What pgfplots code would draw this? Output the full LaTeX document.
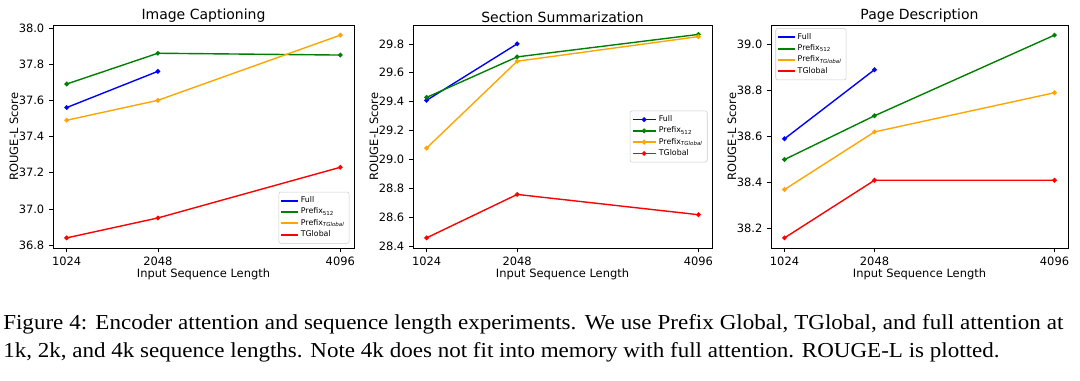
\documentclass[border=0pt]{standalone}
\usepackage{fontspec}
\setmainfont{DejaVu Sans}
\newfontfamily\capfont[FakeStretch=1.08]{Liberation Serif}
\usepackage{pgfplots}
\pgfplotsset{compat=1.18}
\definecolor{mblue}{RGB}{0,0,255}
\definecolor{mgreen}{RGB}{0,128,0}
\definecolor{morange}{RGB}{255,165,0}
\definecolor{mred}{RGB}{255,0,0}
\pgfplotsset{
  panel/.style={
    scale only axis,
    height=167.25pt,
    anchor=south west,
    xmin=870.4, xmax=4249.6,
    xtick={1024,2048,4096},
    xticklabels={1024,2048,4096},
    tick align=outside,
    major tick length=3pt,
    xtick pos=bottom, ytick pos=left,
    tick style={black, line width=0.5pt},
    axis line style={line width=0.6pt},
    /pgf/number format/assume math mode=true,
    yticklabel style={/pgf/number format/fixed, /pgf/number format/fixed zerofill, /pgf/number format/precision=1, font=\fontsize{8.6pt}{10pt}\selectfont},
    xticklabel style={font=\fontsize{8.6pt}{10pt}\selectfont},
    label style={font=\fontsize{8.6pt}{10pt}\selectfont},
    title style={font=\fontsize{10.5pt}{12pt}\selectfont, yshift=-7.5pt},
    xlabel={Input Sequence Length},
    ylabel={ROUGE-L Score},
    xlabel style={yshift=4pt},
    ylabel style={yshift=-6.5pt},
    legend style={draw=black!20, rounded corners=1.5pt, font=\fontsize{5.9pt}{7pt}\selectfont, legend cell align=left, inner sep=1.5pt, row sep=-1.5pt},
    every axis plot/.append style={line width=1.05pt, mark=*, mark size=1.2pt},
  }
}
\begin{document}
\begin{tikzpicture}
\path (0,0) rectangle (810pt,-285pt);
% Panel 1
\begin{axis}[panel, at={(39.75pt,-186pt)}, width=225.75pt,
  title={Image Captioning},
  ymin=36.784, ymax=38.016, ytick={36.8,37.0,37.2,37.4,37.6,37.8,38.0},
  legend style={at={(0.985,0.02)}, anchor=south east},
  legend image code/.code={\fill[#1, mark=none, draw=none, rounded corners=0pt] (0pt,-0.7pt) rectangle (13pt,0.7pt);}]
\addplot[color=mblue] coordinates {(1024,37.56) (2048,37.76)};
\addplot[color=mgreen] coordinates {(1024,37.69) (2048,37.86) (4096,37.85)};
\addplot[color=morange] coordinates {(1024,37.49) (2048,37.60) (4096,37.96)};
\addplot[color=mred] coordinates {(1024,36.84) (2048,36.95) (4096,37.23)};
\legend{Full, Prefix\textsubscript{512}, Prefix\textsubscript{\itshape TGlobal}, TGlobal}
\end{axis}
% Panel 2
\begin{axis}[panel, at={(309.75pt,-186pt)}, width=224.25pt,
  title={Section Summarization},
  ymin=28.39, ymax=29.93, ytick={28.4,28.6,28.8,29.0,29.2,29.4,29.6,29.8},
  legend style={at={(0.985,0.5)}, anchor=east}]
\addplot[color=mblue] coordinates {(1024,29.41) (2048,29.80)};
\addplot[color=mgreen] coordinates {(1024,29.43) (2048,29.71) (4096,29.865)};
\addplot[color=morange] coordinates {(1024,29.08) (2048,29.68) (4096,29.85)};
\addplot[color=mred] coordinates {(1024,28.46) (2048,28.76) (4096,28.62)};
\legend{Full, Prefix\textsubscript{512}, Prefix\textsubscript{\itshape TGlobal}, TGlobal}
\end{axis}
% Panel 3
\begin{axis}[panel, at={(578.25pt,-186pt)}, width=222.75pt,
  title={Page Description},
  ymin=38.116, ymax=39.084, ytick={38.2,38.4,38.6,38.8,39.0},
  legend style={at={(0.015,0.985)}, anchor=north west},
  legend image code/.code={\fill[#1, mark=none, draw=none, rounded corners=0pt] (0pt,-0.7pt) rectangle (13pt,0.7pt);}]
\addplot[color=mblue] coordinates {(1024,38.59) (2048,38.89)};
\addplot[color=mgreen] coordinates {(1024,38.50) (2048,38.69) (4096,39.04)};
\addplot[color=morange] coordinates {(1024,38.37) (2048,38.62) (4096,38.79)};
\addplot[color=mred] coordinates {(1024,38.16) (2048,38.41) (4096,38.41)};
\legend{Full, Prefix\textsubscript{512}, Prefix\textsubscript{\itshape TGlobal}, TGlobal}
\end{axis}
% Caption
\node[anchor=base west, inner sep=0pt, text width=795pt, align=justify,
  font=\capfont\fontsize{16pt}{21pt}\selectfont] at (2.25pt,-246.75pt)
  {Figure 4: Encoder attention and sequence length experiments. We use Prefix Global, TGlobal, and full attention at\linebreak 1k, 2k, and 4k sequence lengths. Note 4k does not fit into memory with full attention. ROUGE-L is plotted.};
\end{tikzpicture}
\end{document}
